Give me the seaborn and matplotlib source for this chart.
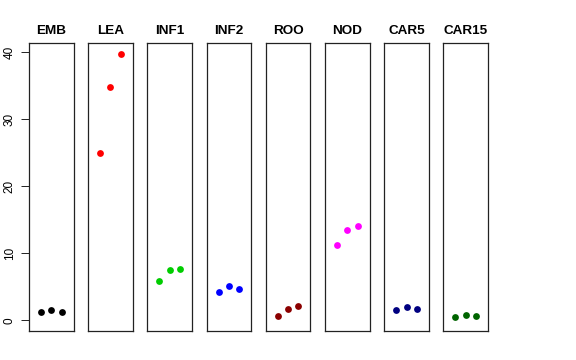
import matplotlib
matplotlib.use("Agg")
import matplotlib.pyplot as plt
import seaborn as sns
import pandas as pd

tissues = ["EMB", "LEA", "INF1", "INF2", "ROO", "NOD", "CAR5", "CAR15"]
colors = ["#000000", "#FF0000", "#00CD00", "#0000FF", "#8B0000", "#FF00FF", "#000080", "#006400"]
replicate = [1, 2, 3]
emb = [1.2, 1.55, 1.2]
lea = [25.0, 34.85, 39.8]
inf1 = [5.85, 7.5, 7.6]
inf2 = [4.2, 5.05, 4.75]
roo = [0.7, 1.65, 2.1]
nod = [11.2, 13.5, 14.05]
car5 = [1.55, 2.0, 1.65]
car15 = [0.45, 0.8, 0.6]
values = [emb, lea, inf1, inf2, roo, nod, car5, car15]
yticks = [0, 10, 20, 30, 40]

rows = []
for t, vals in zip(tissues, values):
    for r, v in zip(replicate, vals):
        rows.append({"tissue": t, "rep": r, "value": v})
df = pd.DataFrame(rows)

sns.set_theme(style="white")
plt.rcParams["font.family"] = ["Liberation Sans", "DejaVu Sans"]
plt.rcParams["text.color"] = "black"
plt.rcParams["axes.labelcolor"] = "black"
plt.rcParams["xtick.color"] = "black"
plt.rcParams["ytick.color"] = "black"

fig, axes = plt.subplots(1, 8, figsize=(5.76, 3.6), dpi=100, sharey=True)
fig.subplots_adjust(left=29/576, right=488/576, top=1-43/360, bottom=1-331/360, wspace=0.33)

allv = [v for vals in values for v in vals]
lo, hi = 0.0, max(allv)
pad = (hi - lo) * 0.04

for i, (ax, t, c) in enumerate(zip(axes, tissues, colors)):
    sub = df[df["tissue"] == t]
    sns.scatterplot(data=sub, x="rep", y="value", color=c, s=24, linewidth=0, ax=ax, legend=False)
    ax.set_xlim(-0.16, 4.16)
    ax.set_ylim(lo - pad, hi + pad)
    ax.set_xticks([])
    ax.set_xlabel("")
    ax.set_ylabel("")
    ax.set_title(t, fontsize=9.7, fontweight="bold", pad=6.5, color="black")
    for sp in ax.spines.values():
        sp.set_visible(True)
        sp.set_color("#222222")
        sp.set_linewidth(0.9)
    if i == 0:
        ax.set_yticks(yticks)
        ax.set_yticklabels([str(v) for v in yticks], rotation=90, va="center", fontsize=8.5, color="black")
        ax.tick_params(axis="y", which="both", left=True, length=5.6, width=0.7, pad=4.0, color="#222222")
    else:
        ax.tick_params(axis="y", left=False, labelleft=False)

fig.savefig("out.png", dpi=100, facecolor="white")
